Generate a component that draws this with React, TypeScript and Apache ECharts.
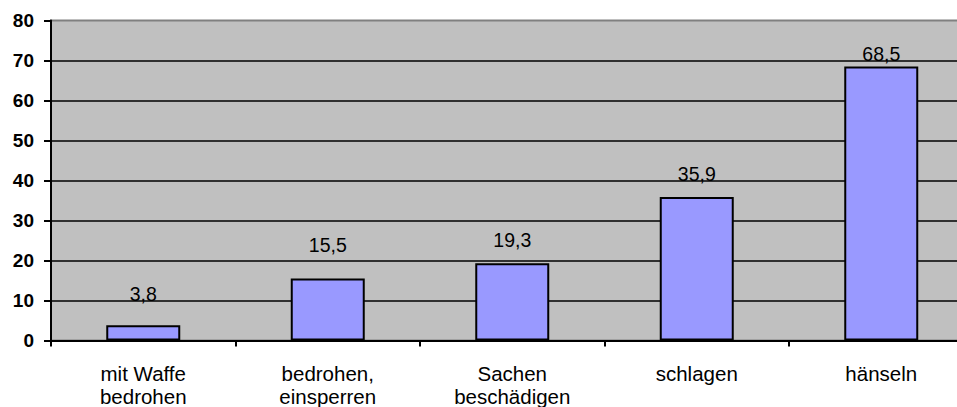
import React, { useEffect, useRef } from "react";
import * as echarts from "echarts";

const categories = ["mit Waffe\nbedrohen", "bedrohen,\neinsperren", "Sachen\nbeschädigen", "schlagen", "hänseln"];
const values = [3.8, 15.5, 19.3, 35.9, 68.5];
const yTicks = [0, 10, 20, 30, 40, 50, 60, 70, 80];
const labelDistances = [21, 24, 13, 13, 3];

const FONT = "'Liberation Sans', Arial, sans-serif";

export default function App() {
  const ref = useRef<HTMLDivElement>(null);
  useEffect(() => {
    if (!ref.current) return;
    const chart = echarts.init(ref.current, null, { renderer: "svg" });
    chart.setOption({
      animation: false,
      backgroundColor: "#ffffff",
      grid: {
        left: 51,
        top: 20.5,
        bottom: 66.5,
        right: -16.5,
        outerBoundsMode: "none",
        containLabel: false,
        show: true,
        backgroundColor: "#C0C0C0",
        borderColor: "#808080",
        borderWidth: 2,
      },
      xAxis: {
        type: "category",
        data: categories,
        axisLine: { show: true, lineStyle: { color: "#000", width: 2 } },
        axisTick: { show: true, alignWithLabel: false, length: 6, lineStyle: { color: "#000", width: 2 } },
        axisLabel: {
          color: "#000",
          fontFamily: FONT,
          fontSize: 20.5,
          lineHeight: 23,
          margin: 21,
          interval: 0,
        },
        splitLine: { show: false },
      },
      yAxis: {
        type: "value",
        min: yTicks[0],
        max: yTicks[yTicks.length - 1],
        interval: 10,
        axisLine: { show: true, lineStyle: { color: "#000", width: 2 } },
        axisTick: { show: true, length: 7, lineStyle: { color: "#000", width: 2 } },
        axisLabel: {
          color: "#000",
          fontFamily: FONT,
          fontSize: 19,
          fontWeight: "bold",
          margin: 17,
        },
        splitLine: {
          show: true,
          showMaxLine: false,
          lineStyle: { color: "#000", width: 1.6 },
        },
      },
      series: [
        {
          type: "bar",
          barWidth: 74,
          data: values.map((v, i) => ({
            value: v,
            label: { distance: labelDistances[i] },
          })),
          itemStyle: { color: "#9999FF", borderColor: "#000", borderWidth: 2 },
          label: {
            show: true,
            position: "top",
            color: "#000",
            fontFamily: FONT,
            fontSize: 19.5,
            formatter: (p: any) => String(p.value).replace(".", ","),
          },
        },
      ],
    });
    return () => chart.dispose();
  }, []);
  return <div ref={ref} style={{ width: 957, height: 407, position: "absolute", left: 0, top: 0 }} />;
}
